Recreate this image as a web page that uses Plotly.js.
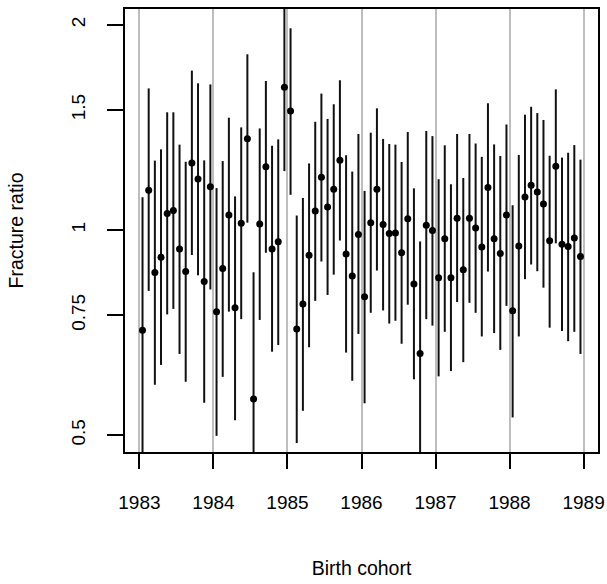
<!DOCTYPE html>
<html>
<head>
<meta charset="utf-8">
<script src="https://cdn.plot.ly/plotly-3.0.1.min.js"></script>
<style>html,body{margin:0;padding:0;background:#fff;}#chart{width:607px;height:584px;}</style>
</head>
<body>
<div id="chart"></div>
<script>
// Birth cohorts: monthly, Jan 1983 - Dec 1988
const years = [1983, 1984, 1985, 1986, 1987, 1988];
const monthsPerYear = 12;

// Estimated fracture ratio per monthly cohort
const ratio = [
  0.713, 1.144, 0.866, 0.912, 1.057, 1.068, 0.938, 0.869, 1.254, 1.188, 0.840, 1.157,
  0.759, 0.878, 1.052, 0.769, 1.023, 1.361, 0.565, 1.020, 1.238, 0.938, 0.961, 1.619,
  1.494, 0.716, 0.779, 0.918, 1.066, 1.195, 1.081, 1.147, 1.265, 0.922, 0.856, 0.985,
  0.798, 1.025, 1.147, 1.019, 0.988, 0.990, 0.926, 1.039, 0.833, 0.659, 1.016, 0.998,
  0.851, 0.971, 0.851, 1.040, 0.874, 1.040, 1.007, 0.944, 1.154, 0.971, 0.924, 1.052,
  0.761, 0.947, 1.118, 1.163, 1.137, 1.092, 0.964, 1.240, 0.953, 0.946, 0.973, 0.914
];
// Lower confidence limits
const lower = [
  0.456, 0.814, 0.593, 0.634, 0.752, 0.766, 0.658, 0.599, 0.919, 0.858, 0.558, 0.818,
  0.499, 0.609, 0.759, 0.526, 0.740, 1.025, 0.368, 0.738, 0.926, 0.663, 0.678, 1.220,
  1.126, 0.487, 0.543, 0.673, 0.787, 0.899, 0.803, 0.860, 0.965, 0.661, 0.601, 0.704,
  0.557, 0.756, 0.872, 0.762, 0.729, 0.736, 0.681, 0.777, 0.604, 0.452, 0.740, 0.724,
  0.610, 0.709, 0.621, 0.784, 0.640, 0.782, 0.756, 0.698, 0.869, 0.706, 0.667, 0.774,
  0.531, 0.698, 0.847, 0.890, 0.870, 0.823, 0.719, 0.956, 0.711, 0.687, 0.709, 0.658
];
// Upper confidence limits
const upper = [
  1.117, 1.613, 1.264, 1.313, 1.488, 1.488, 1.334, 1.259, 1.713, 1.641, 1.265, 1.635,
  1.152, 1.262, 1.461, 1.120, 1.414, 1.810, 0.867, 1.409, 1.654, 1.329, 1.358, 2.147,
  1.976, 1.050, 1.114, 1.252, 1.441, 1.585, 1.455, 1.529, 1.658, 1.287, 1.218, 1.383,
  1.141, 1.389, 1.508, 1.360, 1.337, 1.334, 1.258, 1.392, 1.151, 0.962, 1.397, 1.373,
  1.187, 1.331, 1.167, 1.383, 1.192, 1.383, 1.339, 1.280, 1.534, 1.335, 1.284, 1.428,
  1.087, 1.288, 1.476, 1.516, 1.484, 1.450, 1.285, 1.608, 1.277, 1.298, 1.332, 1.268
];

const xTicks = [1983, 1984, 1985, 1986, 1987, 1988, 1989];
const yTicks = [0.5, 0.75, 1, 1.5, 2];
const yTickText = ['0.5', '0.75', '1', '1.5', '2'];

// cohort position = middle of each birth month
const cohort = [];
years.forEach(function (y) {
  for (let m = 0; m < monthsPerYear; m++) cohort.push(y + (m + 0.5) / monthsPerYear);
});

const errPlus = ratio.map(function (v, i) { return upper[i] - v; });
const errMinus = ratio.map(function (v, i) { return v - lower[i]; });

const FONT = 'Liberation Sans, Arial, sans-serif';

const trace = {
  type: 'scatter',
  mode: 'markers',
  x: cohort,
  y: ratio,
  marker: { color: '#000000', size: 7 },
  error_y: {
    type: 'data', symmetric: false,
    array: errPlus, arrayminus: errMinus,
    width: 0, thickness: 2, color: '#111111'
  },
  showlegend: false,
  hoverinfo: 'x+y'
};

const layout = {
  width: 607, height: 584,
  margin: { l: 125, r: 9, t: 9, b: 132 },
  paper_bgcolor: '#ffffff', plot_bgcolor: '#ffffff',
  font: { family: FONT, size: 19, color: '#000000' },
  xaxis: {
    range: [1982.805, 1989.195],
    tickvals: xTicks, ticktext: xTicks.map(String),
    ticks: 'outside', ticklen: 15, tickwidth: 2, tickcolor: '#000',
    showline: true, linecolor: '#000', linewidth: 2, mirror: true,
    showgrid: true, gridcolor: '#bebebe', gridwidth: 2,
    zeroline: false,
    tickfont: { family: FONT, size: 19, color: '#000' },
    ticklabelstandoff: 17,
    title: { text: 'Birth cohort', font: { family: FONT, size: 19.5, color: '#000' }, standoff: 50 }
  },
  yaxis: {
    type: 'log',
    range: [Math.log10(0.4725), Math.log10(2.109)],
    tickvals: yTicks, ticktext: yTickText,
    tickangle: -90,
    ticks: 'outside', ticklen: 16, tickwidth: 2, tickcolor: '#000',
    showline: true, linecolor: '#000', linewidth: 2, mirror: true,
    showgrid: false, zeroline: false,
    tickfont: { family: FONT, size: 19, color: '#000' },
    ticklabelstandoff: 14,
    title: { text: 'Fracture ratio', font: { family: FONT, size: 19.5, color: '#000' }, standoff: 40 }
  },
  shapes: [{
    type: 'line', xref: 'paper', yref: 'y',
    x0: 0, x1: 1, y0: 0, y1: 0,
    line: { color: '#bebebe', width: 2 }, layer: 'below'
  }]
};

Plotly.newPlot('chart', [trace], layout, { displayModeBar: false, staticPlot: true });
</script>
</body>
</html>
